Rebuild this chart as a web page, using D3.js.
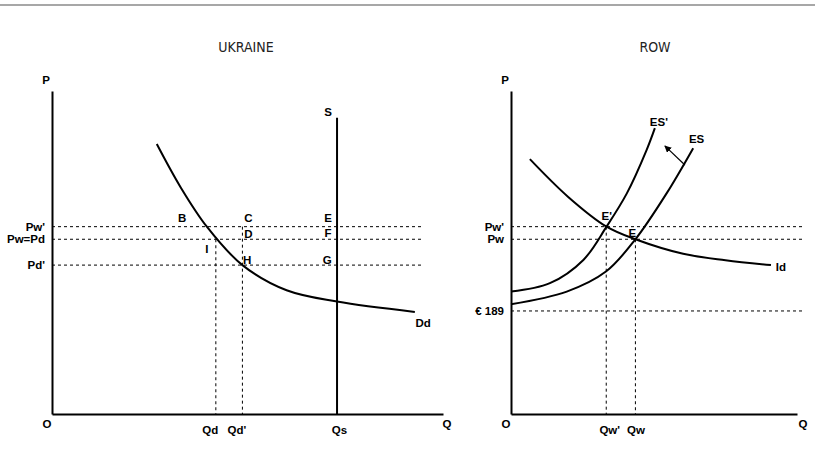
<!DOCTYPE html>
<html>
<head>
<meta charset="utf-8">
<script src="https://cdn.jsdelivr.net/npm/d3@7"></script>
<style>
  body { margin: 0; background: #fff; }
  svg { display: block; }
  .lbl { font-family: "Liberation Sans", Arial, sans-serif; font-weight: bold; font-size: 11.5px; fill: #000; }
  .title { font-family: "Liberation Sans Narrow", "DejaVu Sans Condensed", Arial, sans-serif; font-size: 14px; fill: #222; }
</style>
</head>
<body>
<svg id="chart" width="815" height="464"></svg>
<script>
// ---- left panel: Ukraine (units 0..100 on both axes)
var priceLabelsL = ["Pw'", "Pw=Pd", "Pd'"];
var priceValuesL = [58.0, 54.1, 46.1];
var qtyLabelsL = ["Qd", "Qd'", "Qs"];
var qtyValuesL = [41.9, 48.7, 72.9];
var supplyTopL = 91.7;
var demandQ = [26.8, 33.0, 39.6, 48.7, 60.0, 72.9, 92.8];
var demandP = [83.6, 70.0, 58.0, 46.1, 38.3, 34.8, 31.6];
var pointNamesL = ["B", "C", "E", "D", "F", "I", "H", "G", "Dd", "S"];
var pointQL = [33.3, 50.2, 70.6, 50.2, 70.6, 39.6, 49.9, 70.4, 94.9, 70.6];
var pointPL = [60.6, 60.6, 60.7, 55.7, 56.0, 51.1, 47.7, 47.7, 28.3, 93.5];

// ---- right panel: rest of the world
var priceLabelsR = ["Pw'", "Pw", "\u20ac 189"];
var priceValuesR = [58.0, 54.1, 31.9];
var qtyLabelsR = ["Qw'", "Qw"];
var qtyValuesR = [33.3, 43.5];
var idQ = [6.6, 20.0, 33.4, 43.5, 60.2, 75.0, 90.9];
var idP = [78.9, 67.2, 58.0, 54.1, 49.6, 47.6, 46.1];
var esPrimeQ = [0, 13.6, 25.3, 33.4, 40.5, 47.4, 50.3];
var esPrimeP = [37.9, 40.5, 47.7, 58.0, 68.3, 81.7, 88.5];
var esQ = [0, 19.5, 33.2, 43.5, 54.4, 63.7];
var esP = [34.0, 37.9, 44.1, 54.1, 68.3, 82.3];
var shiftFromQ = 60.8, shiftFromP = 77.1, shiftToQ = 53.8, shiftToP = 83.0;
var pointNamesR = ["E'", "E", "ES'", "ES", "Id"];
var pointQR = [33.5, 42.4, 51.7, 64.9, 94.4];
var pointPR = [61.2, 55.9, 90.5, 85.0, 45.5];

var svg = d3.select("#chart");

// gray rule at the top
svg.append("line")
  .attr("x1", 0).attr("x2", 815).attr("y1", 5).attr("y2", 5)
  .attr("stroke", "#8a8a8a").attr("stroke-width", 1.5);

svg.append("defs").append("marker")
  .attr("id", "arrow")
  .attr("viewBox", "0 0 10 10")
  .attr("refX", 9).attr("refY", 5)
  .attr("markerWidth", 7).attr("markerHeight", 7)
  .attr("markerUnits", "userSpaceOnUse")
  .attr("orient", "auto")
  .append("path").attr("d", "M0,0L10,5L0,10z").attr("fill", "#000");

function zip(a, b) {
  return a.map(function(v, i) { return [v, b[i]]; });
}

function panel(opt) {
  var x = d3.scaleLinear().domain([0, 100]).range(opt.xRange);
  var y = d3.scaleLinear().domain([0, 100]).range([414, 91]);
  var g = svg.append("g");

  g.append("text").attr("class", "title")
    .attr("x", opt.titleX).attr("y", 52)
    .attr("text-anchor", "middle")
    .text(opt.title);

  // dashed price lines
  g.selectAll("line.hp").data(opt.dashP).enter().append("line")
    .attr("class", "hp")
    .attr("x1", x(0)).attr("x2", x(opt.dashEnd))
    .attr("y1", function(d) { return y(d); })
    .attr("y2", function(d) { return y(d); })
    .attr("stroke", "#000").attr("stroke-width", 1)
    .attr("stroke-dasharray", "3,3");

  // dashed quantity drops
  g.selectAll("line.vq").data(opt.dropQ).enter().append("line")
    .attr("class", "vq")
    .attr("x1", function(d) { return x(d[0]); })
    .attr("x2", function(d) { return x(d[0]); })
    .attr("y1", function(d) { return y(d[1]); })
    .attr("y2", y(0))
    .attr("stroke", "#000").attr("stroke-width", 1)
    .attr("stroke-dasharray", "3,3");

  var line = d3.line()
    .x(function(d) { return x(d[0]); })
    .y(function(d) { return y(d[1]); })
    .curve(d3.curveCatmullRom.alpha(0.5));

  opt.curves.forEach(function(c) {
    g.append("path").attr("d", line(c))
      .attr("fill", "none").attr("stroke", "#000").attr("stroke-width", 2);
  });

  if (opt.supply) {
    g.append("line")
      .attr("x1", x(opt.supply[0])).attr("x2", x(opt.supply[0]))
      .attr("y1", y(opt.supply[1])).attr("y2", y(0))
      .attr("stroke", "#000").attr("stroke-width", 2);
  }

  if (opt.shift) {
    g.append("line")
      .attr("x1", x(opt.shift[0])).attr("y1", y(opt.shift[1]))
      .attr("x2", x(opt.shift[2])).attr("y2", y(opt.shift[3]))
      .attr("stroke", "#000").attr("stroke-width", 1.2)
      .attr("marker-end", "url(#arrow)");
  }

  // axes with the price / quantity labels as ticks
  var yAxis = d3.axisLeft(y)
    .tickValues(opt.priceValues)
    .tickFormat(function(d, i) { return opt.priceLabels[i]; })
    .tickSize(0).tickSizeOuter(0).tickPadding(7);
  var yg = g.append("g").attr("transform", "translate(" + x(0) + ",0)").call(yAxis);

  var xAxis = d3.axisBottom(x)
    .tickValues(opt.qtyValues)
    .tickFormat(function(d, i) { return opt.qtyLabels[i]; })
    .tickSize(0).tickSizeOuter(0).tickPadding(12);
  var xg = g.append("g").attr("transform", "translate(0," + y(0) + ")").call(xAxis);

  [yg, xg].forEach(function(a) {
    a.select(".domain").attr("stroke", "#000").attr("stroke-width", 2);
    a.selectAll("text").attr("class", "lbl").attr("font-size", null).attr("font-family", null);
  });
  xg.selectAll("text").attr("dx", function(d, i) { return opt.qtyNudge[i]; });

  // axis letters
  g.append("text").attr("class", "lbl").attr("x", x(0) - 6).attr("y", 80)
    .attr("text-anchor", "middle").attr("dy", "0.35em").text("P");
  g.append("text").attr("class", "lbl").attr("x", x(0) - 5).attr("y", 424)
    .attr("text-anchor", "middle").attr("dy", "0.35em").text("O");
  g.append("text").attr("class", "lbl").attr("x", opt.qLabelX).attr("y", 424)
    .attr("text-anchor", "middle").attr("dy", "0.35em").text("Q");

  // point and curve labels
  g.selectAll("text.pt").data(opt.points).enter().append("text")
    .attr("class", "lbl")
    .attr("x", function(d) { return x(d.q); })
    .attr("y", function(d) { return y(d.p); })
    .attr("text-anchor", "middle").attr("dy", "0.35em")
    .text(function(d) { return d.name; });
}

panel({
  title: "UKRAINE", titleX: 246,
  xRange: [52, 443], qLabelX: 447,
  priceValues: priceValuesL, priceLabels: priceLabelsL,
  qtyValues: qtyValuesL, qtyLabels: qtyLabelsL, qtyNudge: [-6, -6, 2],
  dashP: priceValuesL, dashEnd: 94.9,
  dropQ: [[qtyValuesL[0], priceValuesL[1]], [qtyValuesL[1], priceValuesL[0]]],
  curves: [zip(demandQ, demandP)],
  supply: [qtyValuesL[2], supplyTopL],
  points: pointNamesL.map(function(n, i) { return {name: n, q: pointQL[i], p: pointPL[i]}; })
});

panel({
  title: "ROW", titleX: 655,
  xRange: [511, 797], qLabelX: 803,
  priceValues: priceValuesR, priceLabels: priceLabelsR,
  qtyValues: qtyValuesR, qtyLabels: qtyLabelsR, qtyNudge: [3, 0],
  dashP: priceValuesR, dashEnd: 102.8,
  dropQ: [[qtyValuesR[0], priceValuesR[0]], [qtyValuesR[1], priceValuesR[1]]],
  curves: [zip(idQ, idP), zip(esPrimeQ, esPrimeP), zip(esQ, esP)],
  shift: [shiftFromQ, shiftFromP, shiftToQ, shiftToP],
  points: pointNamesR.map(function(n, i) { return {name: n, q: pointQR[i], p: pointPR[i]}; })
});
</script>
</body>
</html>
